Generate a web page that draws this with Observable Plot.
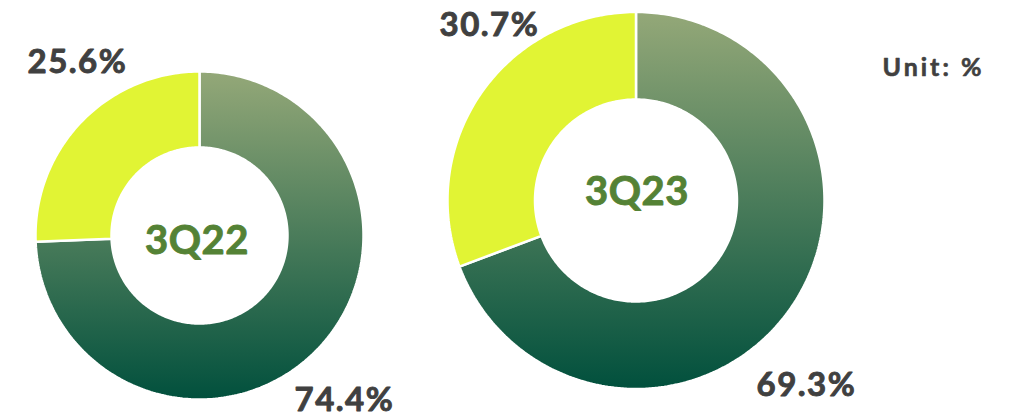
<!DOCTYPE html>
<html>
<head>
<meta charset="utf-8">
<script src="https://cdn.jsdelivr.net/npm/d3@7"></script>
<script src="https://cdn.jsdelivr.net/npm/@observablehq/plot@0.6"></script>
<style>
  html, body { margin: 0; padding: 0; background: #ffffff; }
  #chart { width: 1013px; height: 420px; }
  .pct-label text { letter-spacing: 1.5px; }
  .unit-label text { letter-spacing: 3px; }
  .center-label text { letter-spacing: 0.5px; }
</style>
</head>
<body>
<div id="chart"></div>
<script>
// ---- Data ----
const quarters = ["3Q22", "3Q23"];
const darkShare = [74.4, 69.3];   // dark green segment, %
const lightShare = [25.6, 30.7];  // yellow-green segment, %
const unitLabel = "Unit: %";

// ---- Layout (positions / sizes, not data) ----
const W = 1013, H = 420;
const donuts = [
  { cx: 199, cy: 235, r0: 88, r1: 164, center: [196.5, 253],
    darkLabel: [294, 410], lightLabel: [27, 72] },
  { cx: 635.5, cy: 200, r0: 101, r1: 188.5, center: [636.5, 204],
    darkLabel: [756, 395], lightLabel: [439, 35] }
];
const DARK = "url(#gDark)";
const LIGHT = "#e1f434";
const LABEL_COLOR = "#404040";
const CENTER_COLOR = "#548235";
const FONT = "Lato, 'DejaVu Sans', sans-serif";

// ---- Build slice polygons from the data with d3.pie ----
const pie = d3.pie().sort(null).value(d => d.value);
const slicePts = [];
const labels = [];
quarters.forEach((q, i) => {
  const L = donuts[i];
  const parts = [
    { key: "dark", value: darkShare[i], fill: DARK },
    { key: "light", value: lightShare[i], fill: LIGHT }
  ];
  pie(parts).forEach(a => {
    const id = q + "-" + a.data.key;
    const n = Math.max(8, Math.ceil((a.endAngle - a.startAngle) * 60));
    const pts = [];
    for (let k = 0; k <= n; k++) {
      const t = a.startAngle + (a.endAngle - a.startAngle) * k / n;
      pts.push([L.cx + L.r1 * Math.sin(t), L.cy - L.r1 * Math.cos(t)]);
    }
    for (let k = n; k >= 0; k--) {
      const t = a.startAngle + (a.endAngle - a.startAngle) * k / n;
      pts.push([L.cx + L.r0 * Math.sin(t), L.cy - L.r0 * Math.cos(t)]);
    }
    pts.push(pts[0]);
    pts.forEach(p => slicePts.push({ id, x: p[0], y: p[1], fill: a.data.fill }));
    const pos = a.data.key === "dark" ? L.darkLabel : L.lightLabel;
    labels.push({ x: pos[0], y: pos[1], text: a.data.value.toFixed(1) + "%" });
  });
});
const centers = quarters.map((q, i) => ({ x: donuts[i].center[0], y: donuts[i].center[1], text: q }));

// gradient definitions as a render-function mark
function gradientDefs() {
  const ns = "http://www.w3.org/2000/svg";
  const defs = document.createElementNS(ns, "defs");
  const g = document.createElementNS(ns, "linearGradient");
  g.setAttribute("id", "gDark");
  g.setAttribute("x1", "0"); g.setAttribute("y1", "0");
  g.setAttribute("x2", "0"); g.setAttribute("y2", "1");
  [["0", "#94a878"], ["1", "#01503d"]].forEach(([o, c]) => {
    const s = document.createElementNS(ns, "stop");
    s.setAttribute("offset", o); s.setAttribute("stop-color", c);
    g.appendChild(s);
  });
  defs.appendChild(g);
  return defs;
}

const plot = Plot.plot({
  width: W, height: H,
  margin: 0,
  x: { domain: [0, W], range: [0, W], axis: null },
  y: { domain: [0, H], range: [0, H], axis: null },
  color: { type: "identity" },
  style: { background: "#ffffff", fontFamily: FONT },
  marks: [
    gradientDefs,
    Plot.line(slicePts, {
      x: "x", y: "y", z: "id", fill: "fill",
      stroke: "#ffffff", strokeWidth: 2.5, strokeLinejoin: "miter", curve: "linear"
    }),
    Plot.text(labels, {
      x: "x", y: "y", text: "text", textAnchor: "start", lineAnchor: "bottom",
      fill: LABEL_COLOR, stroke: LABEL_COLOR, strokeWidth: 0.9,
      fontSize: 33, fontWeight: "bold", fontFamily: FONT,
      className: "pct-label"
    }),
    Plot.text(centers, {
      x: "x", y: "y", text: "text", textAnchor: "middle", lineAnchor: "bottom",
      fill: CENTER_COLOR, stroke: CENTER_COLOR, strokeWidth: 0.9,
      fontSize: 40, fontWeight: "bold", fontFamily: FONT,
      className: "center-label"
    }),
    Plot.text([unitLabel], {
      x: () => 882, y: () => 75, text: d => d, textAnchor: "start", lineAnchor: "bottom",
      fill: LABEL_COLOR, stroke: LABEL_COLOR, strokeWidth: 0.6,
      fontSize: 25, fontWeight: "bold", fontFamily: FONT,
      className: "unit-label"
    })
  ]
});
document.getElementById("chart").appendChild(plot);
</script>
</body>
</html>
